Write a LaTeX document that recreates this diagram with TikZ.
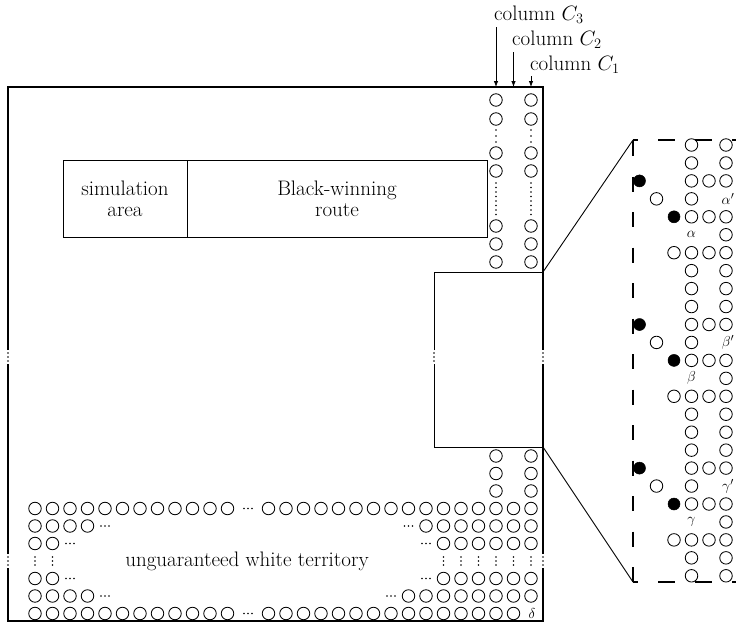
\documentclass[tikz,border=0pt]{standalone}
\usetikzlibrary{arrows.meta}
\begin{document}
\begin{tikzpicture}[x=1pt,y=-1pt,
  wc/.style={circle,draw,line width=0.85pt,minimum size=12.5pt,inner sep=0pt},
  bc/.style={circle,fill=black,draw=black,line width=0.5pt,minimum size=12pt,inner sep=0pt},
  txt/.style={font=\fontsize{21}{21}\selectfont,inner sep=0pt,align=center},
  lbl/.style={font=\fontsize{15}{17}\selectfont,inner sep=0pt},
  frame/.style={line width=1.2pt},
  thinbox/.style={line width=1pt},
  arr/.style={line width=0.8pt,-{Latex[length=6pt,width=4.5pt]}},
  conn/.style={line width=0.9pt},
  dsh/.style={line width=1.1pt,dash pattern=on 17pt off 20pt,dash phase=12pt},
  dshv/.style={line width=1.1pt,dash pattern=on 15pt off 20.5pt},
  vdt/.pic={\fill (0,-4) circle (0.8) (0,0) circle (0.8) (0,4) circle (0.8);},
  hdt/.pic={\fill (-4,0) circle (0.8) (0,0) circle (0.8) (4,0) circle (0.8);}
]
\useasboundingbox (0,0) rectangle (736,627);

% column labels and arrows
\node[txt,anchor=base west] (lc3) at (494,20) {column $C_3$};
\node[txt,anchor=base west] (lc2) at (512,45) {column $C_2$};
\node[txt,anchor=base west] (lc1) at (530,70) {column $C_1$};
\coordinate (t3) at (496,87);
\coordinate (t2) at (513.5,87);
\coordinate (t1) at (531,87);
\draw[arr,shorten <=4pt] (t3 |- lc3.south) -- (t3);
\draw[arr,shorten <=4pt] (t2 |- lc2.south) -- (t2);
\draw[arr,shorten <=3pt] (t1 |- lc1.south) -- (t1);

% big square
\coordinate (F1) at (8,87);
\coordinate (F2) at (543,87);
\coordinate (F3) at (543,621);
\coordinate (F4) at (8,621);
\draw[frame] (8,350) -- (F1) -- (F2) -- (543,350);
\draw[frame] (543,364) -- (543,554);
\draw[frame] (543,568) -- (F3) -- (F4) -- (8,568);
\draw[frame] (8,554) -- (8,364);
\pic at (8,357) {vdt};
\pic at (8,561) {vdt};
\pic at (543,357) {vdt};
\pic at (543,561) {vdt};

% zoomed rectangle
\draw[thinbox] (434,350) -- (434,272) -- (543,272);
\draw[thinbox] (434,364) -- (434,447) -- (543,447);
\pic at (434,357) {vdt};

% boxes
\node[draw,thinbox,txt,minimum width=124pt,minimum height=77pt] (sim) at (125,198.5) {simulation\\area};
\node[draw,thinbox,txt,minimum width=300pt,minimum height=77pt] (route) at (337,198.5) {Black-winning\\route};

% columns C3 and C1, upper part
\foreach \y [count=\i] in {100,119,153,171,226,244,262} {
  \node[wc] (u3-\i) at (496,\y) {};
  \node[wc] (u1-\i) at (531,\y) {};
}
\foreach \x in {496,531} {
  \foreach \y in {130,136,142} \fill (\x,\y) circle (0.8);
  \foreach \t in {0,...,7} \fill (\x,{183+4.5*\t}) circle (0.8);
}
% columns below rectangle
\foreach \y [count=\i] in {456,473.5,491} {
  \node[wc] (d3-\i) at (496,\y) {};
  \node[wc] (d1-\i) at (531,\y) {};
}

% bottom rows, left part
\foreach \y/\n [count=\r] in {508.5/12, 526/4, 543.5/2, 578.5/2, 596/4, 613.5/12} {
  \foreach \i in {1,...,\n} \node[wc] (L\r-\i) at ({35+17.5*(\i-1)},\y) {};
}
\foreach \y/\n in {526/4, 543.5/2, 578.5/2, 596/4} \pic at ({35+17.5*\n},\y) {hdt};
\pic at (248,508.5) {hdt};
\pic at (248,613.5) {hdt};
% bottom rows, right part
\foreach \y/\n [count=\r] in {508.5/16, 526/7, 543.5/6, 578.5/6, 596/8} {
  \foreach \j in {1,...,\n} \node[wc] (R\r-\j) at ({531-17.5*(\j-1)},\y) {};
}
\foreach \y/\n in {526/7, 543.5/6, 578.5/6, 596/8} \pic at ({531-17.5*\n},\y) {hdt};
\foreach \j in {2,...,16} \node[wc] (R6-\j) at ({531-17.5*(\j-1)},613.5) {};
\node[lbl] (delta) at (532,613.5) {$\delta$};
% dotted row
\foreach \x in {35,52.5} \pic at (\x,561) {vdt};
\foreach \j in {0,...,5} \pic at ({531-17.5*\j},561) {vdt};
\node[txt] (terr) at (247,561) {unguaranteed white territory};

% magnified panel
\coordinate (P1) at (633,140);
\coordinate (P2) at (633,582);
\coordinate (Pr1) at (745,140);
\coordinate (Pr2) at (745,582);
\coordinate (Q1) at (543,272);
\coordinate (Q2) at (543,447);
\draw[conn] (Q1) -- (P1);
\draw[conn] (Q2) -- (P2);
\draw[dsh] (P1) -- (Pr1);
\draw[dsh] (P2) -- (Pr2);
\draw[dshv] (633,141) -- (P2);

\foreach \n in {0,1,7,8,9,15,16,17,23,24} {
  \node[wc] (p\n-2) at (691.5,{145+17.95*\n}) {};
  \node[wc] (p\n-0) at (726,{145+17.95*\n}) {};
}
\foreach \b/\l in {2/\alpha,10/\beta,18/\gamma} {
  \pgfmathtruncatemacro\rwA{\b+1}
  \pgfmathtruncatemacro\rwB{\b+2}
  \pgfmathtruncatemacro\rwC{\b+3}
  \pgfmathtruncatemacro\rwD{\b+4}
  \node[bc] (p\b-5) at (639.5,{145+17.95*\b}) {};
  \node[wc] (p\b-2) at (691.5,{145+17.95*\b}) {};
  \node[wc] (p\b-1) at (709,{145+17.95*\b}) {};
  \node[wc] (p\b-0) at (726,{145+17.95*\b}) {};
  \node[wc] (p\rwA-4) at (656.5,{145+17.95*\rwA}) {};
  \node[wc] (p\rwA-2) at (691.5,{145+17.95*\rwA}) {};
  \node[lbl] (p\rwA-0) at (728,{145+17.95*\rwA}) {$\l'$};
  \node[bc] (p\rwB-3) at (674,{145+17.95*\rwB}) {};
  \node[wc] (p\rwB-2) at (691.5,{145+17.95*\rwB}) {};
  \node[wc] (p\rwB-1) at (709,{145+17.95*\rwB}) {};
  \node[wc] (p\rwB-0) at (726,{145+17.95*\rwB}) {};
  \node[lbl] (p\rwC-2) at (691.5,{145+17.95*\rwC}) {$\l$};
  \node[wc] (p\rwC-0) at (726,{145+17.95*\rwC}) {};
  \node[wc] (p\rwD-3) at (674,{145+17.95*\rwD}) {};
  \node[wc] (p\rwD-2) at (691.5,{145+17.95*\rwD}) {};
  \node[wc] (p\rwD-1) at (709,{145+17.95*\rwD}) {};
  \node[wc] (p\rwD-0) at (726,{145+17.95*\rwD}) {};
}
\end{tikzpicture}
\end{document}
